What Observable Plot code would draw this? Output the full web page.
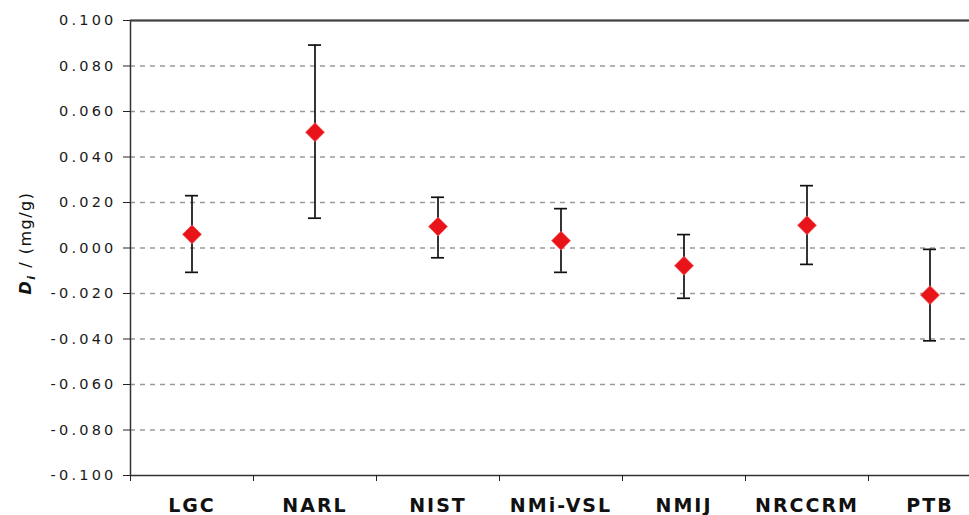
<!DOCTYPE html>
<html><head><meta charset="utf-8">
<script src="https://cdn.jsdelivr.net/npm/d3@7"></script>
<script src="https://cdn.jsdelivr.net/npm/@observablehq/plot@0.6"></script>
<style>
body{margin:0;background:#fff;overflow:hidden}
svg [aria-label="y-axis tick label"] text{letter-spacing:3.2px}
svg [aria-label="x-axis tick label"] text{letter-spacing:2px}
</style>
</head><body><div id="chart"></div>
<script>
const labs = ["LGC","NARL","NIST","NMi-VSL","NMIJ","NRCCRM","PTB"];
const values = [0.0060, 0.0509, 0.0094, 0.0032, -0.0078, 0.0100, -0.0207];
const lower  = [-0.0107, 0.0131, -0.0043, -0.0107, -0.0221, -0.0072, -0.0408];
const upper  = [0.0230, 0.0892, 0.0223, 0.0173, 0.0059, 0.0274, -0.0006];
const yTicks = [-0.1, -0.08, -0.06, -0.04, -0.02, 0, 0.02, 0.04, 0.06, 0.08, 0.1];
const gridTicks = [-0.08, -0.06, -0.04, -0.02, 0, 0.02, 0.04, 0.06, 0.08];

const data = labs.map((lab, i) => ({lab, v: values[i], lo: lower[i], hi: upper[i]}));

const W = 969, ML = 130, MR = -22;
const bw = (W - ML - MR) / labs.length;

const chart = Plot.plot({
  width: W, height: 515,
  marginLeft: ML, marginRight: MR, marginTop: 20, marginBottom: 40,
  style: {fontFamily: "'DejaVu Sans', Verdana, sans-serif", background: "#fff", color: "#222"},
  x: {domain: labs, padding: 0, label: null},
  y: {domain: [-0.1, 0.1], label: null},
  marks: [
    Plot.ruleY(gridTicks, {stroke: "#9a9a9a", strokeDasharray: "5,5", strokeWidth: 1.3}),
    Plot.frame({stroke: "#333", strokeWidth: 1.5}),
    Plot.ruleY([0.1], {stroke: "#444", strokeWidth: 2.2}),
    Plot.axisY({ticks: yTicks, tickFormat: d => d.toFixed(3), tickSize: 7, tickPadding: 7,
      fontSize: 14.5, stroke: "#222", fill: "#1a1a1a"}),
    Plot.axisX({tickSize: 6, tickFormat: () => "", dx: -bw / 2, stroke: "#222"}),
    Plot.axisX({tickSize: 0, tickPadding: 23, fontSize: 19, fontWeight: "bold", fill: "#111"}),
    Plot.ruleX(data, {x: "lab", y1: "lo", y2: "hi", stroke: "#111", strokeWidth: 1.7}),
    Plot.tickY(data, {x: "lab", y: "hi", stroke: "#111", strokeWidth: 1.7, insetLeft: (bw - 13) / 2, insetRight: (bw - 13) / 2}),
    Plot.tickY(data, {x: "lab", y: "lo", stroke: "#111", strokeWidth: 1.7, insetLeft: (bw - 13) / 2, insetRight: (bw - 13) / 2}),
    Plot.dot(data, {x: "lab", y: "v", symbol: "diamond2", r: 8.5, fill: "#e8141a", stroke: "#f35050", strokeWidth: 0.8})
  ]
});
document.getElementById("chart").appendChild(chart);

// rotated y-axis title
const svg = d3.select(chart);
const t = svg.append("text")
  .attr("transform", "translate(31,243) rotate(-90)")
  .attr("text-anchor", "middle")
  .attr("font-family", "'DejaVu Sans', Verdana, sans-serif")
  .attr("font-size", 16)
  .attr("fill", "#111")
  .style("letter-spacing", "1.5px");
t.append("tspan").attr("font-weight", "bold").attr("font-style", "italic").text("D");
t.append("tspan").attr("font-style", "italic").attr("font-weight", "bold").attr("font-size", 11).attr("dy", 4).text("i");
t.append("tspan").attr("dy", -4).text(" / (mg/g)");
</script>
</body></html>
